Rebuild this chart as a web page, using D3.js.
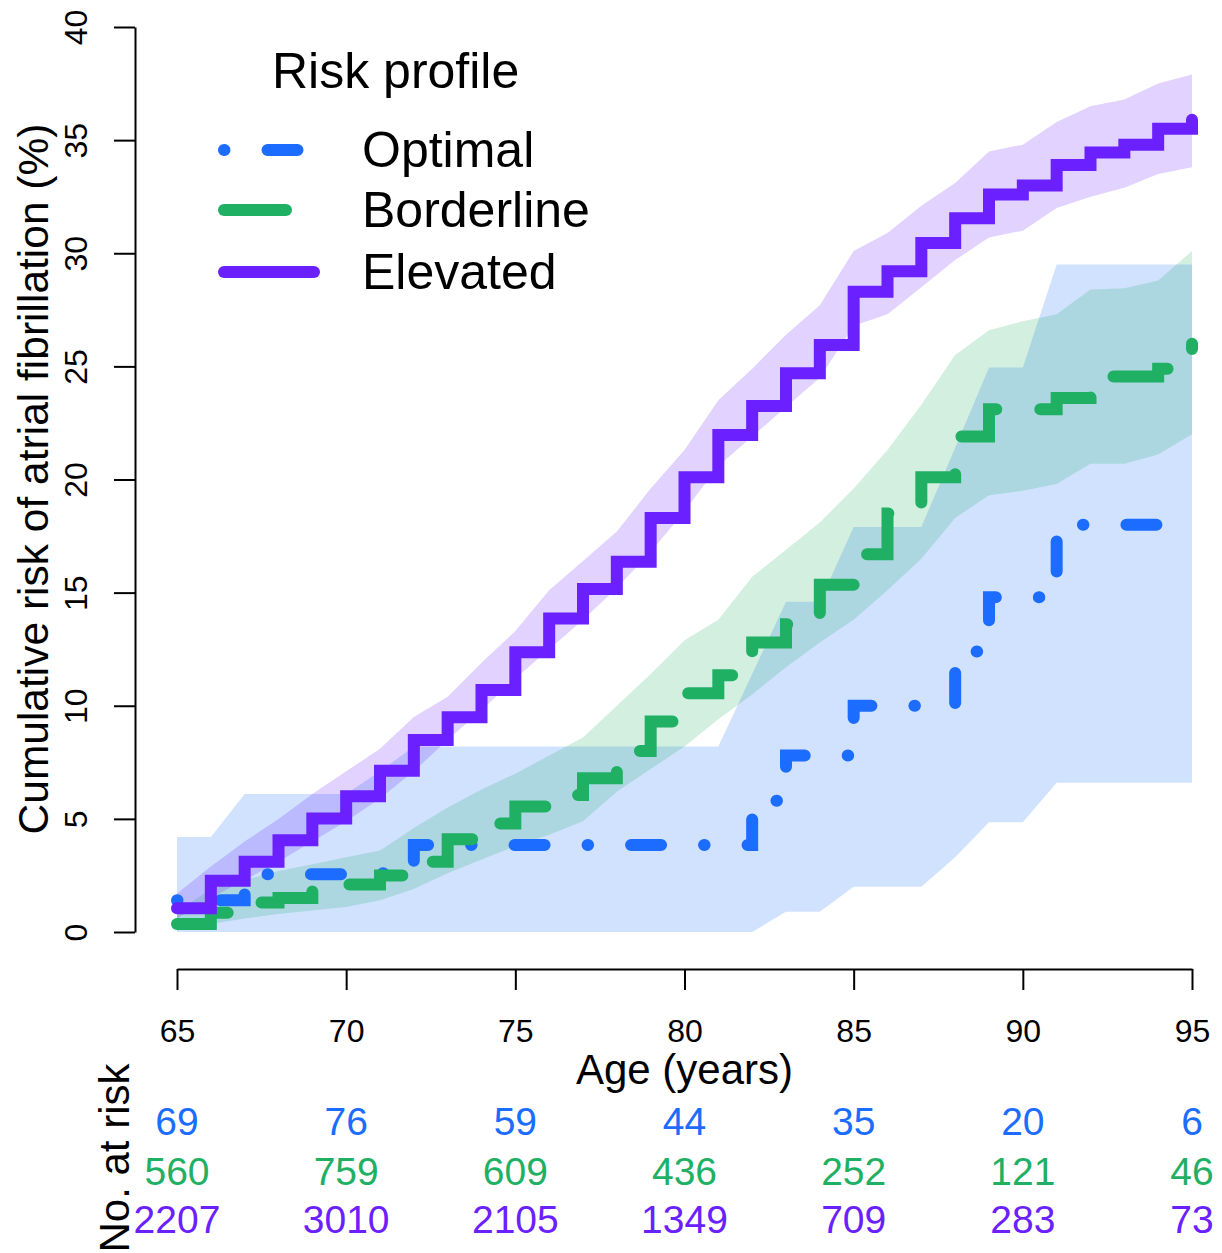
<!DOCTYPE html>
<html>
<head>
  <meta charset="utf-8">
  <script src="https://d3js.org/d3.v7.min.js"></script>
  <style>
    body { margin: 0; background: #fff; }
    text { font-family: "Liberation Sans", Arial, sans-serif; }
    .axis path, .axis line { stroke: #000; stroke-width: 2px; }
  </style>
</head>
<body>
<script>
  // ages (years) at which the curves step
  var ages = [65, 66, 67, 68, 69, 70, 71, 72, 73, 74, 75, 76, 77, 78, 79, 80,
              81, 82, 83, 84, 85, 86, 87, 88, 89, 90, 91, 92, 93, 94, 95];

  // cumulative risk (%) per profile, one value per age
  var optimalRisk = [1.4, 1.4, 2.55, 2.55, 2.55, 2.6, 2.6, 3.85, 3.85, 3.85, 3.85, 3.85, 3.85, 3.85, 3.85, 3.85,
                     3.85, 5.8, 7.8, 7.8, 10.0, 10.0, 10.0, 12.4, 14.8, 14.8, 18.0, 18.0, 18.0, 18.0];
  var optimalEndAge = 94.1;
  var borderlineRisk = [0.35, 0.85, 1.3, 1.5, 2.0, 2.1, 2.5, 3.1, 4.1, 4.8, 5.55, 6.05, 6.8, 8.0, 9.3, 10.55,
                        11.35, 12.8, 13.6, 15.35, 16.7, 18.5, 20.1, 21.9, 23.1, 23.1, 23.6, 24.55, 24.55, 24.9, 26.0];
  var elevatedRisk = [1.05, 2.27, 3.1, 4.05, 5.02, 6.0, 7.13, 8.49, 9.49, 10.7, 12.36, 13.86, 15.16, 16.37, 18.3, 20.1,
                      21.97, 23.25, 24.7, 25.95, 28.3, 29.2, 30.45, 31.55, 32.6, 33.0, 33.9, 34.45, 34.8, 35.5, 35.9];

  // confidence bands (%)
  var optimalLo = [0, 0, 0, 0, 0, 0, 0, 0, 0, 0, 0, 0, 0, 0, 0, 0,
                   0, 0, 0.9, 0.9, 2.0, 2.0, 2.0, 3.3, 4.85, 4.85, 6.6, 6.6, 6.6, 6.6, 6.6];
  var optimalHi = [4.2, 4.2, 6.1, 6.1, 6.1, 6.1, 7.1, 8.2, 8.2, 8.2, 8.2, 8.2, 8.2, 8.2, 8.2, 8.2,
                   8.2, 11.4, 14.6, 14.6, 17.9, 17.9, 17.9, 21.4, 24.95, 24.95, 29.5, 29.5, 29.5, 29.5, 29.5];
  var borderlineLo = [0.05, 0.35, 0.6, 0.8, 0.95, 1.1, 1.4, 1.9, 2.6, 3.2, 3.8, 4.3, 4.9, 6.2, 7.2, 8.2,
                      9.4, 10.5, 11.7, 12.8, 13.8, 15.1, 16.5, 18.3, 19.3, 19.5, 19.8, 20.7, 20.7, 21.1, 22.0];
  var borderlineHi = [0.9, 1.9, 2.3, 2.7, 3.0, 3.3, 3.6, 4.6, 5.5, 6.3, 7.0, 7.8, 8.6, 10.0, 11.4, 12.9,
                      13.8, 15.7, 16.9, 18.1, 19.6, 21.3, 23.3, 25.5, 26.6, 27.0, 27.3, 28.4, 28.45, 28.8, 30.1];
  var elevatedLo = [0.6, 1.5, 2.3, 3.1, 4.0, 4.9, 5.9, 7.1, 8.5, 9.8, 11.2, 12.5, 13.8, 15.2, 16.8, 18.6,
                    20.6, 21.9, 23.2, 24.5, 26.8, 27.3, 28.5, 29.7, 30.7, 31.0, 32.0, 32.5, 32.9, 33.5, 33.8];
  var elevatedHi = [1.7, 2.9, 4.0, 5.0, 6.1, 7.1, 8.1, 9.5, 10.4, 11.9, 13.3, 15.1, 16.4, 17.7, 19.6, 21.3,
                    23.5, 24.9, 26.4, 27.7, 30.1, 30.9, 32.1, 33.1, 34.5, 34.8, 35.8, 36.5, 36.8, 37.5, 37.9];

  // axis ticks
  var tickAges = [65, 70, 75, 80, 85, 90, 95];
  var riskTicks = [0, 5, 10, 15, 20, 25, 30, 35, 40];

  // numbers at risk at the tick ages
  var atRiskOptimal = [69, 76, 59, 44, 35, 20, 6];
  var atRiskBorderline = [560, 759, 609, 436, 252, 121, 46];
  var atRiskElevated = [2207, 3010, 2105, 1349, 709, 283, 73];

  var profiles = ["Optimal", "Borderline", "Elevated"];
  var colors = { Optimal: "#1b6cff", Borderline: "#1fb064", Elevated: "#6a20ff" };
  var dashes = { Optimal: "0.5,43,30,43", Borderline: "62,44", Elevated: null };

  var svg = d3.select("body").append("svg")
      .attr("width", 1222)
      .attr("height", 1253);

  var x = d3.scaleLinear().domain([65, 95]).range([177, 1192]);
  var y = d3.scaleLinear().domain([0, 40]).range([932, 27]);

  function band(lo, hi) {
    return ages.map(function (a, i) { return { age: a, lo: lo[i], hi: hi[i] }; });
  }
  function steps(vals) {
    return vals.map(function (v, i) { return { age: ages[i], v: v }; });
  }

  var area = d3.area()
      .x(function (d) { return x(d.age); })
      .y0(function (d) { return y(d.lo); })
      .y1(function (d) { return y(d.hi); });

  var line = d3.line()
      .x(function (d) { return x(d.age); })
      .y(function (d) { return y(d.v); })
      .curve(d3.curveStepAfter);

  // bands: blue first, then green, then purple on top
  var bands = [
    { name: "Optimal", data: band(optimalLo, optimalHi) },
    { name: "Borderline", data: band(borderlineLo, borderlineHi) },
    { name: "Elevated", data: band(elevatedLo, elevatedHi) }
  ];
  svg.selectAll("path.band")
      .data(bands)
      .enter()
      .append("path")
      .attr("class", "band")
      .attr("d", function (d) { return area(d.data); })
      .style("fill", function (d) { return colors[d.name]; })
      .style("fill-opacity", 0.2)
      .style("stroke", "none");

  var optimalSteps = steps(optimalRisk);
  optimalSteps.push({ age: optimalEndAge, v: optimalRisk[optimalRisk.length - 1] });

  var curves = [
    { name: "Optimal", data: optimalSteps },
    { name: "Borderline", data: steps(borderlineRisk) },
    { name: "Elevated", data: steps(elevatedRisk) }
  ];
  svg.selectAll("path.curve")
      .data(curves)
      .enter()
      .append("path")
      .attr("class", "curve")
      .attr("d", function (d) { return line(d.data); })
      .style("fill", "none")
      .style("stroke", function (d) { return colors[d.name]; })
      .style("stroke-width", 12)
      .style("stroke-linecap", "round")
      .style("stroke-linejoin", "miter")
      .style("stroke-dasharray", function (d) { return dashes[d.name]; });

  // y axis
  var yAxis = svg.append("g")
      .attr("class", "axis")
      .attr("transform", "translate(135,0)")
      .call(d3.axisLeft(y).tickValues(riskTicks).tickSize(21).tickSizeOuter(0));
  yAxis.selectAll("text")
      .attr("x", null)
      .attr("dy", null)
      .attr("text-anchor", "middle")
      .attr("transform", "translate(-48,0) rotate(-90)")
      .style("font-size", "32px")
      .style("fill", "#000");

  // x axis
  var xAxis = svg.append("g")
      .attr("class", "axis")
      .attr("transform", "translate(0,969)")
      .call(d3.axisBottom(x).tickValues(tickAges).tickSize(21).tickSizeOuter(0));
  xAxis.selectAll("text")
      .attr("y", 73)
      .attr("dy", null)
      .style("font-size", "32px")
      .style("fill", "#000");

  svg.append("text")
      .attr("transform", "translate(48,479) rotate(-90)")
      .attr("text-anchor", "middle")
      .style("font-size", "42.5px")
      .text("Cumulative risk of atrial fibrillation (%)");

  svg.append("text")
      .attr("x", x(80))
      .attr("y", 1084)
      .attr("text-anchor", "middle")
      .style("font-size", "42px")
      .text("Age (years)");

  // numbers at risk table
  svg.append("text")
      .attr("transform", "translate(129,1158) rotate(-90)")
      .attr("text-anchor", "middle")
      .style("font-size", "42px")
      .text("No. at risk");

  var rows = [
    { name: "Optimal", vals: atRiskOptimal, base: 1135 },
    { name: "Borderline", vals: atRiskBorderline, base: 1185 },
    { name: "Elevated", vals: atRiskElevated, base: 1233 }
  ];
  rows.forEach(function (r) {
    svg.selectAll(null)
        .data(r.vals)
        .enter()
        .append("text")
        .attr("x", function (d, i) { return x(tickAges[i]); })
        .attr("y", r.base)
        .attr("text-anchor", "middle")
        .style("font-size", "39px")
        .style("fill", colors[r.name])
        .text(function (d) { return d; });
  });

  // legend
  var legend = svg.append("g").attr("class", "legend");
  legend.append("text")
      .attr("x", 272)
      .attr("y", 88)
      .style("font-size", "50px")
      .text("Risk profile");
  var rowY = [150, 210, 272];
  profiles.forEach(function (p, i) {
    legend.append("line")
        .attr("x1", 224).attr("x2", 314)
        .attr("y1", rowY[i]).attr("y2", rowY[i])
        .style("stroke", colors[p])
        .style("stroke-width", 12)
        .style("stroke-linecap", "round")
        .style("stroke-dasharray", dashes[p]);
    legend.append("text")
        .attr("x", 362)
        .attr("y", rowY[i] + 17)
        .style("font-size", "50px")
        .text(p);
  });
</script>
</body>
</html>
